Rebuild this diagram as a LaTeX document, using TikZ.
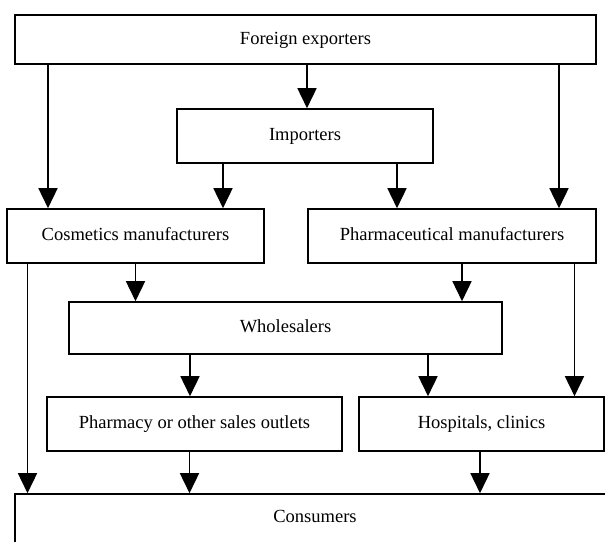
\documentclass[tikz,border=0pt]{standalone}
\usepackage{fontspec}
\setmainfont{Liberation Serif}
\usetikzlibrary{arrows.meta}

\begin{document}
\begin{tikzpicture}[x=1pt, y=-1pt, line width=1.6pt, >={Triangle[length=20pt,width=19pt]},
    font=\fontsize{18.5}{22}\selectfont,
    box/.style={draw, rectangle, align=center, inner sep=0pt, text height=13pt, text depth=4pt}]
    \useasboundingbox (0,0) rectangle (605,541);
    % Nodes
    \node [box, minimum width=581pt, minimum height=49pt] (foreign) at (305.5,39.5) {Foreign exporters};
    \node [box, minimum width=256pt, minimum height=54pt] (importers) at (305,136) {Importers};
    \node [box, minimum width=257pt, minimum height=54pt] (cosmetics) at (135.5,236) {Cosmetics manufacturers};
    \node [box, minimum width=288pt, minimum height=54pt] (pharma) at (452,236) {Pharmaceutical manufacturers};
    \node [box, minimum width=433pt, minimum height=52pt] (wholesalers) at (285.5,328) {Wholesalers};
    \node [box, minimum width=295pt, minimum height=54pt] (pharmacy) at (194.5,424) {Pharmacy or other sales outlets};
    \node [box, minimum width=245pt, minimum height=54pt] (hospitals) at (481.5,424) {Hospitals, clinics};
    \node [box, text depth=16pt, minimum width=600pt, minimum height=60pt] (consumers) at (315,524) {Consumers};
    % Arrows
    \draw[->] ([xshift=-87.5pt]cosmetics.north |- foreign.south) -- ([xshift=-87.5pt]cosmetics.north);
    \draw[->] ([xshift=2pt]importers.north |- foreign.south) -- ([xshift=2pt]importers.north);
    \draw[->] ([xshift=107pt]pharma.north |- foreign.south) -- ([xshift=107pt]pharma.north);
    \draw[->] ([xshift=87.5pt]cosmetics.north |- importers.south) -- ([xshift=87.5pt]cosmetics.north);
    \draw[->] ([xshift=-55pt]pharma.north |- importers.south) -- ([xshift=-55pt]pharma.north);
    \draw[->] (cosmetics.south) -- (cosmetics.south |- wholesalers.north);
    \draw[->] ([xshift=10pt]pharma.south) -- ([xshift=10pt]pharma.south |- wholesalers.north);
    \draw[->] ([xshift=-108pt]cosmetics.south) -- ([xshift=-108pt]cosmetics.south |- consumers.north);
    \draw[->] ([xshift=122.5pt]pharma.south) -- ([xshift=122.5pt]pharma.south |- hospitals.north);
    \draw[->] ([xshift=-4.5pt]pharmacy.north |- wholesalers.south) -- ([xshift=-4.5pt]pharmacy.north);
    \draw[->] ([xshift=-53.5pt]hospitals.north |- wholesalers.south) -- ([xshift=-53.5pt]hospitals.north);
    \draw[->] ([xshift=-5pt]pharmacy.south) -- ([xshift=-5pt]pharmacy.south |- consumers.north);
    \draw[->] ([xshift=-1.5pt]hospitals.south) -- ([xshift=-1.5pt]hospitals.south |- consumers.north);

\end{tikzpicture}
\end{document}
